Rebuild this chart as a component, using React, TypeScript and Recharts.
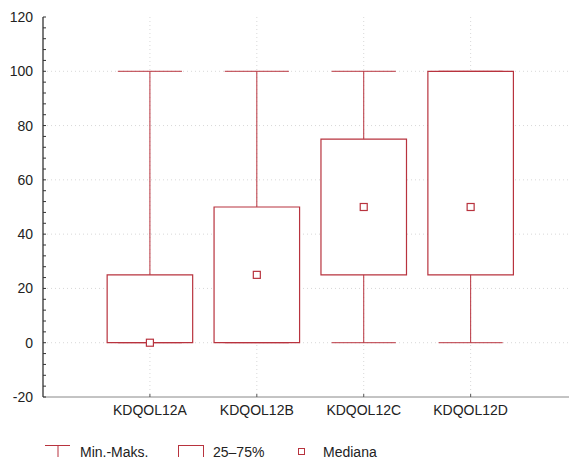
import React from 'react'
import {
  ComposedChart, XAxis, YAxis, CartesianGrid, ReferenceArea, ReferenceLine, Scatter,
} from 'recharts'

// box plot values per variable
const categories = ['KDQOL12A', 'KDQOL12B', 'KDQOL12C', 'KDQOL12D']
const minVals = [0, 0, 0, 0]
const maxVals = [100, 100, 100, 100]
const q1Vals = [0, 0, 25, 25]
const q3Vals = [25, 50, 75, 100]
const medianVals = [0, 25, 50, 50]
const yTicks = [-20, 0, 20, 40, 60, 80, 100, 120]
const legendLabels = ['Min.-Maks.', '25–75%', 'Mediana']

const RED = '#b8333e'
const FONT = '"Liberation Sans", Arial, sans-serif'

const xPos = categories.map((_, i) => i + 1)
const medData = categories.map((c, i) => ({ x: xPos[i], median: medianVals[i], name: c }))
const minorTicks: number[] = []
for (let v = yTicks[0]; v <= yTicks[yTicks.length - 1]; v += 4) minorTicks.push(v)

const YTick = (p: any) => {
  const v = p.payload.value
  const major = v % 20 === 0
  return (
    <g>
      <line x1={p.x + 10} x2={p.x + 13} y1={p.y} y2={p.y} stroke="#333" />
      {major && (
        <text x={p.x} y={p.y} dy={5} textAnchor="end" fontSize={14} fill="#222" fontFamily={FONT}>{v}</text>
      )}
    </g>
  )
}

const XTick = (p: any) => (
  <g>
    <line x1={p.x} x2={p.x} y1={p.y - 10} y2={p.y - 13} stroke="#555" />
    <text x={p.x} y={p.y} dy={8} textAnchor="middle" fontSize={14} fill="#222" fontFamily={FONT}>
      {categories[p.payload.value - 1]}
    </text>
  </g>
)

const MedianMark = (p: any) => (
  <rect x={p.cx - 3.5} y={p.cy - 3.5} width={7} height={7} fill="#fff" stroke={RED} strokeWidth={1.2} />
)

export default function App() {
  return (
    <div style={{ position: 'absolute', left: 0, top: 0, width: 569, height: 457, overflow: 'hidden', fontFamily: FONT }}>
      <ComposedChart width={569} height={457} data={medData} margin={{ top: 17, right: 0, bottom: 30, left: 0 }}>
        <CartesianGrid stroke="#d8d8d8" strokeDasharray="1 3"
          horizontalValues={yTicks.slice(1, -1)} verticalValues={xPos} />
        <XAxis dataKey="x" type="number" domain={[0, 4.92]} ticks={xPos} height={30} allowDataOverflow
          axisLine={{ stroke: '#888' }} tickLine={false} tickSize={0} tickMargin={10} tick={<XTick />} />
        <XAxis xAxisId="top" orientation="top" dataKey="x" type="number" domain={[0, 4.92]} height={0}
          axisLine={{ stroke: '#333', strokeWidth: 1.3 }} tick={false} tickLine={false} />
        <YAxis type="number" domain={[-20, 120]} ticks={minorTicks} width={43} interval={0}
          axisLine={{ stroke: '#333', strokeWidth: 1.3 }} tickLine={false} tickSize={0} tickMargin={10} tick={<YTick />} />
        {xPos.map((x, i) => (
          <ReferenceLine key={'wu' + i} stroke={RED} segment={[{ x, y: q3Vals[i] }, { x, y: maxVals[i] }]} />
        ))}
        {xPos.map((x, i) => (
          <ReferenceLine key={'wl' + i} stroke={RED} segment={[{ x, y: minVals[i] }, { x, y: q1Vals[i] }]} />
        ))}
        {xPos.map((x, i) => (
          <ReferenceLine key={'cu' + i} stroke={RED} segment={[{ x: x - 0.3, y: maxVals[i] }, { x: x + 0.3, y: maxVals[i] }]} />
        ))}
        {xPos.map((x, i) => (
          <ReferenceLine key={'cl' + i} stroke={RED} segment={[{ x: x - 0.3, y: minVals[i] }, { x: x + 0.3, y: minVals[i] }]} />
        ))}
        {xPos.map((x, i) => (
          <ReferenceArea key={'b' + i} x1={x - 0.4} x2={x + 0.4} y1={q1Vals[i]} y2={q3Vals[i]}
            stroke={RED} strokeWidth={1.2} fill="#fff" fillOpacity={1} ifOverflow="visible" />
        ))}
        <Scatter dataKey="median" shape={<MedianMark />} isAnimationActive={false} />
      </ComposedChart>
      <svg width={569} height={457} style={{ position: 'absolute', left: 0, top: 0, pointerEvents: 'none' }}>
        <line x1={45} x2={70} y1={445.5} y2={445.5} stroke={RED} />
        <line x1={58} x2={58} y1={445.5} y2={457} stroke={RED} />
        <text x={80} y={457} fontSize={14} fill="#222" fontFamily={FONT}>{legendLabels[0]}</text>
        <rect x={178.5} y={445.5} width={25} height={20} fill="none" stroke={RED} />
        <text x={213} y={457} fontSize={14} fill="#222" fontFamily={FONT}>{legendLabels[1]}</text>
        <rect x={298.5} y={448.5} width={6} height={6} fill="none" stroke={RED} />
        <text x={323} y={457} fontSize={14} fill="#222" fontFamily={FONT}>{legendLabels[2]}</text>
      </svg>
    </div>
  )
}
